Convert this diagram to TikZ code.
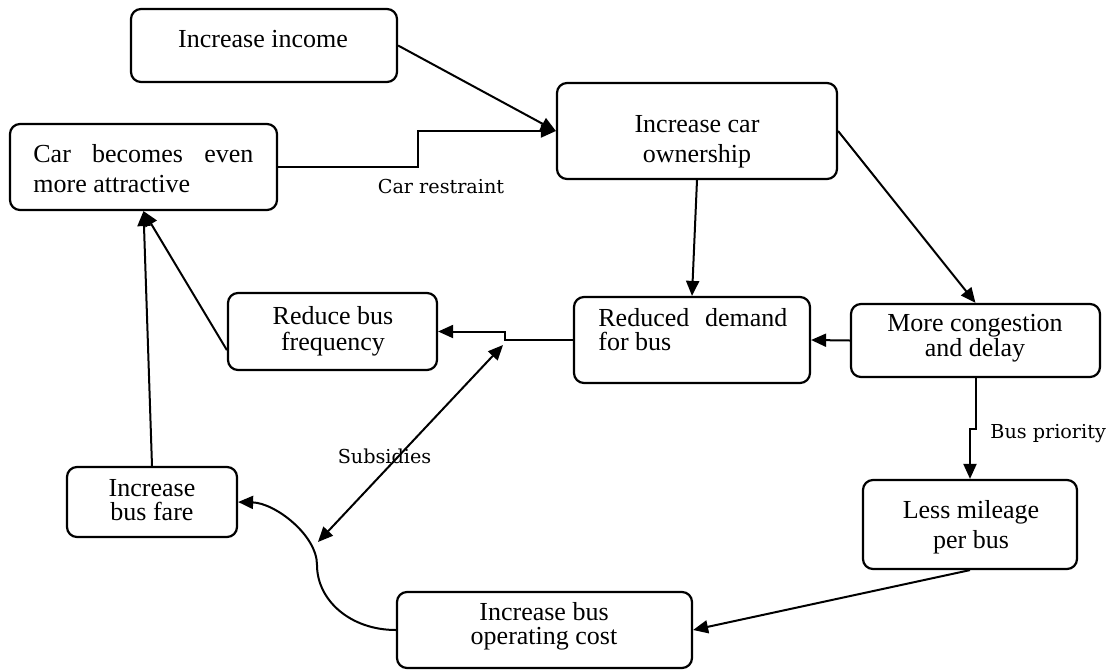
\documentclass[tikz,border=0pt]{standalone}
\usepackage{fontspec}
\setmainfont{Liberation Serif}
\newfontfamily\labelfont{DejaVu Serif}
\usetikzlibrary{arrows.meta}
\begin{document}
\begin{tikzpicture}[x=0.5pt,y=-0.5pt,
  box/.style={draw,line width=1.1pt,rounded corners=5pt,inner sep=0pt},
  txt/.style={font=\fontsize{13}{15}\selectfont,inner sep=0pt,align=center,anchor=base},
  lbl/.style={font=\labelfont\fontsize{9.6}{11}\selectfont,inner sep=0pt,anchor=base},
  arr/.style={line width=1pt,-{Triangle[length=7.5pt,width=6.5pt]}},
  darr/.style={line width=1pt,{Triangle[length=7.5pt,width=6.5pt]}-{Triangle[length=7.5pt,width=6.5pt]}}
  ]
\useasboundingbox (0,0) rectangle (1115,670);
\lineskiplimit=-20pt
% boxes
\node[box,minimum width=133pt,minimum height=36.5pt] (income) at (264,45.5) {};
\node[box,minimum width=140pt,minimum height=48pt] (own) at (697,131) {};
\node[box,minimum width=133.5pt,minimum height=43pt] (attr) at (143.5,167) {};
\node[box,minimum width=104.5pt,minimum height=38.5pt] (freq) at (332.5,331.5) {};
\node[box,minimum width=118pt,minimum height=43pt] (demand) at (692,340) {};
\node[box,minimum width=124.5pt,minimum height=36.5pt] (cong) at (975.5,340.5) {};
\node[box,minimum width=107pt,minimum height=44.5pt] (mile) at (970,524.5) {};
\node[box,minimum width=85pt,minimum height=35pt] (fare) at (152,502) {};
\node[box,minimum width=147.5pt,minimum height=38pt] (opcost) at (544.5,630) {};
% texts (base anchor = baseline of the last line)
\node[txt] (t-income) at (263,47) {Increase income};
\node[txt] (t-own) at (697,162) {Increase car\\ownership};
\node[txt,align=left,anchor=base west] (t-attr) at (33,192) {\makebox[110pt][s]{Car becomes even}\\more attractive};
\node[txt,font=\fontsize{13}{13}\selectfont] (t-freq) at (333,350) {Reduce bus\\frequency};
\node[txt,align=left,anchor=base west,font=\fontsize{13}{12}\selectfont] (t-demand) at (598,350) {\makebox[94.5pt][s]{Reduced demand}\\for bus};
\node[txt,font=\fontsize{13}{12.5}\selectfont] (t-cong) at (975,356) {More congestion\\and delay};
\node[txt] (t-mile) at (971,548) {Less mileage\\per bus};
\node[txt,font=\fontsize{13}{12}\selectfont] (t-fare) at (152,520) {Increase\\bus fare};
\node[txt,font=\fontsize{13}{12}\selectfont] (t-opcost) at (544,644) {Increase bus\\operating cost};
% labels
\node[lbl] (l-restraint) at (441,193) {Car restraint};
\node[lbl,anchor=base west] (l-priority) at (990,438) {Bus priority};
\node[lbl] (l-subsidies) at (384.5,463) {Subsidies};
% connectors
\draw[arr] (income.east) -- (own.west);
\draw[arr] (attr.east) -- ++(140,0) |- (own.west);
\draw[arr] (own.south) -- (demand.north);
\draw[arr] (own.east) -- (cong.north);
\draw[arr] (cong.west) -- (demand.east);
\draw[arr] (demand.west) -- ++(-68,0) |- (freq.east);
\draw[arr] (cong.south) -- ++(0,51) -| (mile.north);
\draw[arr] (freq.190) -- (attr.south);
\draw[arr] (fare.north) -- (attr.south);
\draw[arr] (mile.south) -- (opcost.east);
\coordinate (bend) at (317,565);
\coordinate (c1) at (350,630);
\coordinate (c2) at (317,600);
\coordinate (c3) at (317,535);
\coordinate (c4) at (275,503);
\draw[arr] (opcost.west) .. controls (c1) and (c2) .. (bend) .. controls (c3) and (c4) .. (fare.east);
\coordinate (s-top) at (503,345);
\coordinate (s-bot) at (318,542);
\draw[darr] (s-top) -- (s-bot);
\end{tikzpicture}
\end{document}
